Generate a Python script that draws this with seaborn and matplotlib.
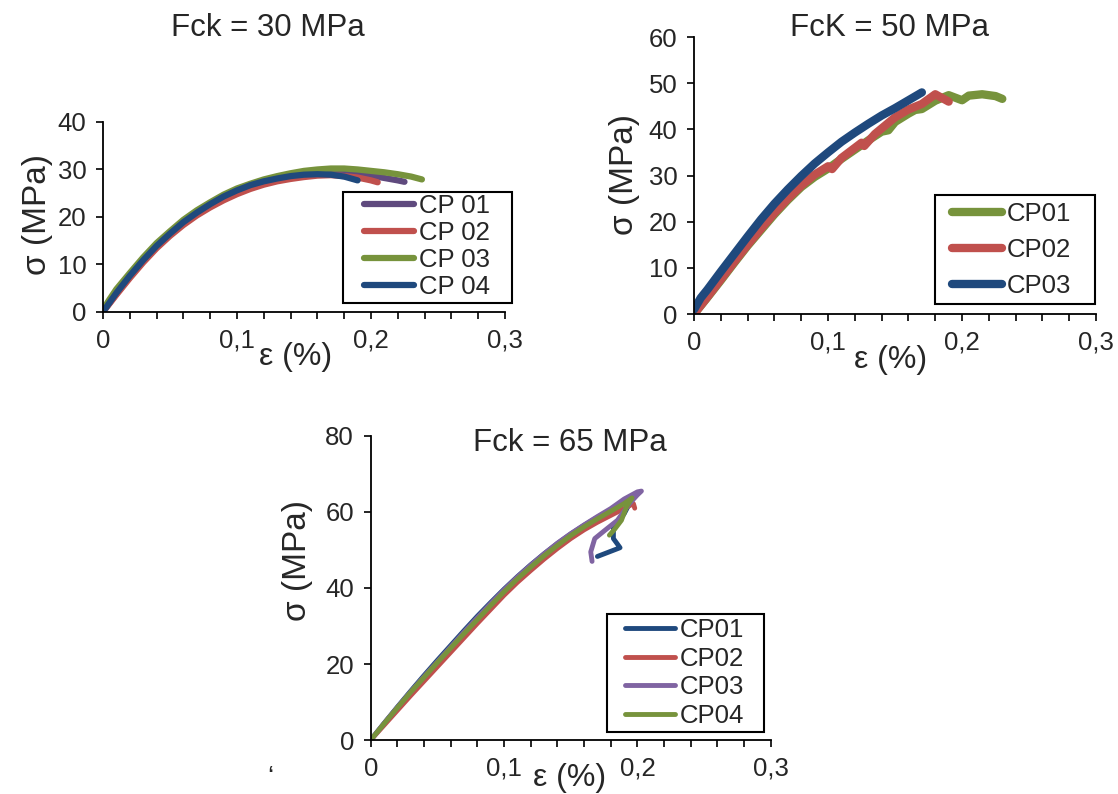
import seaborn as sns
import pandas as pd
import matplotlib.pyplot as plt
from matplotlib.ticker import MultipleLocator
from matplotlib.patches import Rectangle

# ---- data ----
xtick_vals = [0, 0.1, 0.2, 0.3]
xtick_labels = ["0", "0,1", "0,2", "0,3"]

# Fck = 30 MPa
p1_names = ["CP 01", "CP 02", "CP 03", "CP 04"]
p1_cp01_x = [0, 0.005, 0.01, 0.02, 0.03, 0.04, 0.05, 0.06, 0.07, 0.08, 0.09, 0.1, 0.11,
             0.12, 0.13, 0.14, 0.15, 0.16, 0.17, 0.18, 0.19, 0.2, 0.21, 0.22, 0.225]
p1_cp01_y = [0, 1.9, 3.8, 7.4, 10.8, 13.8, 16.4, 18.8, 20.8, 22.6, 24.1, 25.4, 26.5,
             27.4, 28.1, 28.6, 29.0, 29.3, 29.4, 29.3, 29.0, 28.7, 28.2, 27.7, 27.4]
p1_cp02_x = [0, 0.005, 0.01, 0.02, 0.03, 0.04, 0.05, 0.06, 0.07, 0.08, 0.09, 0.1, 0.11,
             0.12, 0.13, 0.14, 0.15, 0.16, 0.17, 0.18, 0.19, 0.2, 0.205]
p1_cp02_y = [0, 1.8, 3.6, 7.1, 10.4, 13.4, 16.0, 18.3, 20.3, 22.0, 23.5, 24.8, 25.9,
             26.8, 27.5, 28.0, 28.4, 28.7, 28.8, 28.6, 28.3, 27.7, 27.3]
p1_cp03_x = [0, 0.005, 0.01, 0.02, 0.03, 0.04, 0.05, 0.06, 0.07, 0.08, 0.09, 0.1, 0.11,
             0.12, 0.13, 0.14, 0.15, 0.16, 0.17, 0.18, 0.19, 0.2, 0.21, 0.22, 0.23, 0.238]
p1_cp03_y = [0.5, 2.7, 4.8, 8.2, 11.5, 14.5, 17.0, 19.4, 21.4, 23.1, 24.7, 26.0, 27.0,
             27.9, 28.6, 29.2, 29.7, 30.0, 30.2, 30.2, 30.0, 29.7, 29.4, 29.0, 28.5, 27.9]
p1_cp04_x = [0, 0.005, 0.01, 0.02, 0.03, 0.04, 0.05, 0.06, 0.07, 0.08, 0.09, 0.1, 0.11,
             0.12, 0.13, 0.14, 0.15, 0.16, 0.17, 0.18, 0.19]
p1_cp04_y = [0, 2.0, 4.0, 7.6, 10.9, 13.9, 16.5, 18.9, 20.9, 22.7, 24.3, 25.6, 26.7,
             27.5, 28.1, 28.6, 28.9, 29.0, 28.9, 28.5, 27.7]

# FcK = 50 MPa
p2_names = ["CP01", "CP02", "CP03"]
p2_cp01_x = [0, 0.01, 0.02, 0.03, 0.04, 0.05, 0.06, 0.07, 0.08, 0.09, 0.1, 0.11, 0.12,
             0.13, 0.14, 0.145, 0.15, 0.16, 0.165, 0.17, 0.18, 0.19, 0.2, 0.205, 0.215,
             0.225, 0.23]
p2_cp01_y = [0, 3.6, 7.3, 11.1, 14.8, 18.2, 21.6, 24.7, 27.5, 29.7, 31.5, 33.6, 35.6,
             37.6, 39.5, 39.8, 41.6, 43.4, 44.2, 44.4, 46.2, 47.4, 46.3, 47.3, 47.6,
             47.2, 46.6]
p2_cp02_x = [0, 0.01, 0.02, 0.03, 0.04, 0.05, 0.06, 0.07, 0.08, 0.09, 0.1, 0.103, 0.11,
             0.12, 0.125, 0.127, 0.135, 0.15, 0.16, 0.17, 0.18, 0.185, 0.19]
p2_cp02_y = [0, 3.7, 7.5, 11.3, 15.0, 18.5, 21.9, 25.0, 27.8, 30.2, 32.0, 31.4, 33.8,
             36.0, 37.1, 36.4, 39.0, 42.6, 44.3, 45.5, 47.6, 46.8, 46.0]
p2_cp03_x = [0, 0.005, 0.01, 0.02, 0.03, 0.04, 0.05, 0.06, 0.07, 0.08, 0.09, 0.1, 0.11,
             0.12, 0.13, 0.14, 0.15, 0.16, 0.17]
p2_cp03_y = [1.0, 3.5, 5.3, 9.2, 13.0, 16.8, 20.5, 23.9, 27.0, 29.9, 32.6, 35.0, 37.3,
             39.3, 41.2, 43.0, 44.6, 46.3, 48.0]

# Fck = 65 MPa
p3_names = ["CP01", "CP02", "CP03", "CP04"]
p3_cp01_x = [0, 0.01, 0.02, 0.03, 0.04, 0.05, 0.06, 0.07, 0.08, 0.09, 0.1, 0.11, 0.12,
             0.13, 0.14, 0.15, 0.16, 0.17, 0.18, 0.19, 0.196,
             0.19, 0.182, 0.182, 0.187, 0.17]
p3_cp01_y = [0, 4.4, 8.7, 12.9, 17.0, 21.0, 24.9, 28.8, 32.6, 36.2, 39.7, 43.0, 46.1,
             49.0, 51.7, 54.2, 56.5, 58.6, 60.5, 62.4, 63.5,
             59.5, 56.0, 53.0, 50.6, 48.3]
p3_cp02_x = [0, 0.01, 0.02, 0.03, 0.04, 0.05, 0.06, 0.07, 0.08, 0.09, 0.1, 0.11, 0.12,
             0.13, 0.14, 0.15, 0.16, 0.17, 0.18, 0.19, 0.197, 0.198]
p3_cp02_y = [0, 3.9, 7.8, 11.7, 15.5, 19.3, 23.1, 26.9, 30.7, 34.4, 38.1, 41.5, 44.6,
             47.6, 50.4, 53.0, 55.3, 57.3, 59.1, 60.9, 62.2, 61.0]
p3_cp03_x = [0, 0.01, 0.02, 0.03, 0.04, 0.05, 0.06, 0.07, 0.08, 0.09, 0.1, 0.11, 0.12,
             0.13, 0.14, 0.15, 0.16, 0.17, 0.18, 0.19, 0.2, 0.203,
             0.2, 0.194, 0.185, 0.175, 0.168, 0.165, 0.166]
p3_cp03_y = [0, 4.4, 8.6, 12.7, 16.7, 20.6, 24.5, 28.4, 32.2, 35.9, 39.5, 42.9, 46.0,
             49.0, 51.8, 54.3, 56.6, 58.8, 60.9, 63.4, 65.3, 65.5,
             64.5, 62.2, 57.8, 55.0, 53.0, 49.5, 47.0]
p3_cp04_x = [0, 0.01, 0.02, 0.03, 0.04, 0.05, 0.06, 0.07, 0.08, 0.09, 0.1, 0.11, 0.12,
             0.13, 0.14, 0.15, 0.16, 0.17, 0.18, 0.19, 0.196,
             0.192, 0.188, 0.183, 0.179]
p3_cp04_y = [0, 4.3, 8.5, 12.6, 16.5, 20.4, 24.2, 28.0, 31.7, 35.4, 39.0, 42.4, 45.5,
             48.5, 51.2, 53.8, 56.1, 58.2, 60.2, 62.2, 63.7,
             61.5, 57.8, 55.5, 53.9]

BLUE, RED, GREEN = "#1F497D", "#C0504D", "#77933C"
PURPLE_DARK, PURPLE = "#5F4A7E", "#8064A2"
W, H = 1118, 794


def make_df(names, xs, ys):
    parts = [pd.DataFrame({"strain": x, "stress": y, "cp": n}) for n, x, y in zip(names, xs, ys)]
    return pd.concat(parts, ignore_index=True)


sns.set_style("ticks")
plt.rcParams["font.family"] = ["Liberation Sans", "DejaVu Sans"]
plt.rcParams["lines.solid_capstyle"] = "round"
plt.rcParams["lines.solid_joinstyle"] = "round"

fig = plt.figure(figsize=(W / 100, H / 100), dpi=100)

panels = [
    dict(rect=[0.0921, 0.6071, 0.3596, 0.2393], names=p1_names,
         xs=[p1_cp01_x, p1_cp02_x, p1_cp03_x, p1_cp04_x],
         ys=[p1_cp01_y, p1_cp02_y, p1_cp03_y, p1_cp04_y],
         colors=[PURPLE_DARK, RED, GREEN, BLUE], lw=4.5, ymax=40, ystep=10,
         title="Fck = 30 MPa", tpos=(0.2397, 0.9647),
         ylab=(-0.164, 0.511), xlab=(0.478, -0.237),
         leg=(364, 246.7), lsp=0.11, box=(343, 192, 512, 303)),
    dict(rect=[0.6208, 0.6045, 0.3596, 0.3489], names=p2_names,
         xs=[p2_cp01_x, p2_cp02_x, p2_cp03_x],
         ys=[p2_cp01_y, p2_cp02_y, p2_cp03_y],
         colors=[GREEN, RED, BLUE], lw=6, ymax=60, ystep=10,
         title="FcK = 50 MPa", tpos=(0.796, 0.9647),
         ylab=(-0.172, 0.502), xlab=(0.488, -0.166),
         leg=(952, 249.7), lsp=0.47, box=(935, 195, 1095, 304)),
    dict(rect=[0.3316, 0.0680, 0.3578, 0.3829], names=p3_names,
         xs=[p3_cp01_x, p3_cp02_x, p3_cp03_x, p3_cp04_x],
         ys=[p3_cp01_y, p3_cp02_y, p3_cp03_y, p3_cp04_y],
         colors=[BLUE, RED, PURPLE, GREEN], lw=3.5, ymax=80, ystep=20,
         title="Fck = 65 MPa", tpos=(0.5098, 0.442),
         ylab=(-0.1825, 0.592), xlab=(0.4975, -0.125),
         leg=(625, 673), lsp=0.18, box=(607, 614, 764, 732)),
]

for p in panels:
    ax = fig.add_axes(p["rect"])
    df = make_df(p["names"], p["xs"], p["ys"])
    sns.lineplot(data=df, x="strain", y="stress", hue="cp", palette=p["colors"],
                 sort=False, estimator=None, lw=p["lw"], legend=False, ax=ax)
    ax.set_xlim(0, 0.3)
    ax.set_ylim(0, p["ymax"])
    ax.set_xticks(xtick_vals)
    ax.set_xticklabels(xtick_labels)
    ax.xaxis.set_minor_locator(MultipleLocator(0.02))
    ax.yaxis.set_major_locator(MultipleLocator(p["ystep"]))
    ax.tick_params(which="both", direction="out", length=5, width=1.2, color="black")
    ax.tick_params(which="major", labelsize=18.5, pad=7)
    sns.despine(ax=ax)
    for s in ["left", "bottom"]:
        ax.spines[s].set_linewidth(1.3)
        ax.spines[s].set_color("black")
    ax.set_ylabel("σ (MPa)", fontsize=24, va="center", ha="center")
    ax.yaxis.set_label_coords(*p["ylab"])
    ax.set_xlabel("ε (%)", fontsize=23, va="center", ha="center")
    ax.xaxis.set_label_coords(*p["xlab"])
    fig.text(p["tpos"][0], p["tpos"][1], p["title"], fontsize=22.5, ha="center", va="center")

    lx, ly = p["leg"]
    ax.legend(ax.lines, p["names"], loc="center left", bbox_to_anchor=(lx / W, 1 - ly / H),
              bbox_transform=fig.transFigure, fontsize=18.5, frameon=False,
              borderaxespad=0, borderpad=0, handlelength=1.95, handletextpad=0.2,
              labelspacing=p["lsp"])
    x0, y0, x1, y1 = p["box"]
    fig.add_artist(Rectangle((x0 / W, 1 - y1 / H), (x1 - x0) / W, (y1 - y0) / H,
                             transform=fig.transFigure, fill=False,
                             edgecolor="black", linewidth=1.5))

fig.text(270 / W, 1 - 778 / H, "‘", fontsize=20, ha="center", va="center")

fig.savefig("out.png", dpi=100)
